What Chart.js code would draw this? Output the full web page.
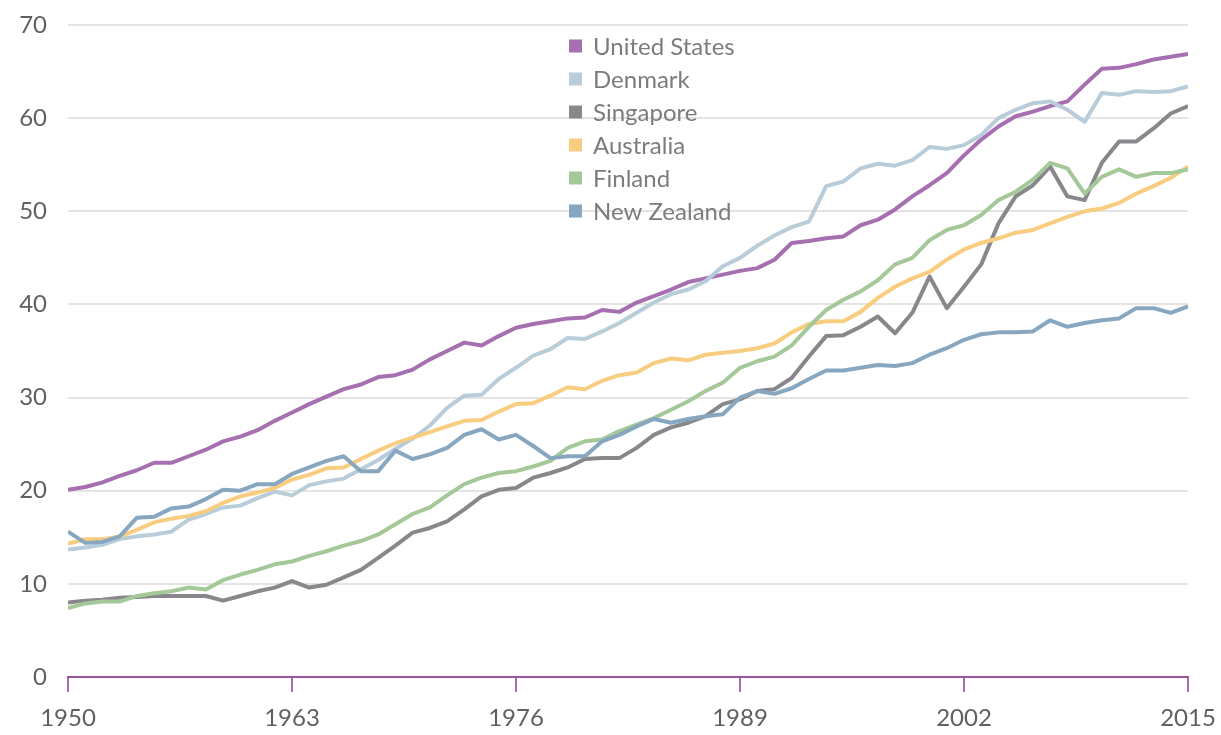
<!DOCTYPE html>
<html>
<head>
<meta charset="utf-8">
<script src="https://cdn.jsdelivr.net/npm/chart.js@4/dist/chart.umd.min.js"></script>
<style>
    html, body { margin: 0; padding: 0; background: #fff; }
    #wrap { width: 1221px; height: 735px; }
</style>
</head>
<body>
<div id="wrap"><canvas id="LineChartCountries" width="1221" height="735"></canvas></div>
<script>
var years = [1950, 1951, 1952, 1953, 1954, 1955, 1956, 1957, 1958, 1959,
    1960, 1961, 1962, 1963, 1964, 1965, 1966, 1967, 1968, 1969,
    1970, 1971, 1972, 1973, 1974, 1975, 1976, 1977, 1978, 1979,
    1980, 1981, 1982, 1983, 1984, 1985, 1986, 1987, 1988, 1989,
    1990, 1991, 1992, 1993, 1994, 1995, 1996, 1997, 1998, 1999,
    2000, 2001, 2002, 2003, 2004, 2005, 2006, 2007, 2008, 2009,
    2010, 2011, 2012, 2013, 2014, 2015];

var countries = ['United States', 'Denmark', 'Singapore', 'Australia', 'Finland', 'New Zealand'];
var colors = ['#a66fb0', '#b9ccd9', '#88888c', '#f8cd80', '#a5c899', '#87a6bf'];

var unitedStates = [20.1, 20.4, 20.9, 21.6, 22.2, 23.0, 23.0, 23.7, 24.4, 25.3,
    25.8, 26.5, 27.5, 28.4, 29.3, 30.1, 30.9, 31.4, 32.2, 32.4,
    33.0, 34.1, 35.0, 35.9, 35.6, 36.6, 37.5, 37.9, 38.2, 38.5,
    38.6, 39.4, 39.2, 40.2, 40.9, 41.6, 42.4, 42.8, 43.2, 43.6,
    43.9, 44.8, 46.6, 46.8, 47.1, 47.3, 48.5, 49.1, 50.2, 51.6,
    52.8, 54.1, 56.0, 57.7, 59.1, 60.2, 60.7, 61.3, 61.8, 63.6,
    65.3, 65.4, 65.8, 66.3, 66.6, 66.9];
var denmark = [13.7, 13.9, 14.2, 14.8, 15.1, 15.3, 15.6, 16.9, 17.5, 18.2,
    18.4, 19.2, 19.9, 19.5, 20.6, 21.0, 21.3, 22.3, 23.3, 24.5,
    25.6, 27.0, 28.9, 30.2, 30.3, 32.0, 33.2, 34.5, 35.2, 36.4,
    36.3, 37.1, 38.0, 39.1, 40.2, 41.1, 41.6, 42.5, 44.1, 45.0,
    46.3, 47.4, 48.3, 48.9, 52.7, 53.2, 54.6, 55.1, 54.9, 55.5,
    56.9, 56.7, 57.1, 58.2, 60.0, 60.9, 61.6, 61.8, 60.9, 59.6,
    62.7, 62.5, 62.9, 62.8, 62.9, 63.4];
var singapore = [8.0, 8.2, 8.3, 8.5, 8.6, 8.7, 8.7, 8.7, 8.7, 8.2,
    8.7, 9.2, 9.6, 10.3, 9.6, 9.9, 10.7, 11.5, 12.8, 14.1,
    15.5, 16.0, 16.7, 18.0, 19.4, 20.1, 20.3, 21.4, 21.9, 22.5,
    23.4, 23.5, 23.5, 24.6, 26.0, 26.8, 27.3, 28.0, 29.3, 29.8,
    30.7, 30.9, 32.1, 34.4, 36.6, 36.7, 37.6, 38.7, 36.9, 39.1,
    43.0, 39.6, 41.9, 44.3, 48.7, 51.6, 52.8, 54.8, 51.6, 51.2,
    55.2, 57.5, 57.5, 58.9, 60.5, 61.3];
var australia = [14.3, 14.8, 14.8, 15.1, 15.8, 16.6, 17.0, 17.3, 17.8, 18.7,
    19.4, 19.8, 20.3, 21.2, 21.7, 22.4, 22.5, 23.4, 24.3, 25.1,
    25.7, 26.3, 26.9, 27.5, 27.6, 28.5, 29.3, 29.4, 30.2, 31.1,
    30.9, 31.8, 32.4, 32.7, 33.7, 34.2, 34.0, 34.6, 34.8, 35.0,
    35.3, 35.8, 37.0, 37.9, 38.2, 38.2, 39.2, 40.7, 41.9, 42.8,
    43.5, 44.8, 45.9, 46.6, 47.1, 47.7, 48.0, 48.7, 49.4, 50.0,
    50.3, 50.9, 51.9, 52.7, 53.6, 54.8];
var finland = [7.4, 7.9, 8.1, 8.1, 8.7, 9.0, 9.2, 9.6, 9.4, 10.4,
    11.0, 11.5, 12.1, 12.4, 13.0, 13.5, 14.1, 14.6, 15.3, 16.4,
    17.5, 18.2, 19.5, 20.7, 21.4, 21.9, 22.1, 22.6, 23.2, 24.6,
    25.3, 25.5, 26.4, 27.1, 27.8, 28.7, 29.6, 30.7, 31.6, 33.2,
    33.9, 34.4, 35.6, 37.6, 39.4, 40.5, 41.4, 42.6, 44.3, 45.0,
    46.9, 48.0, 48.5, 49.6, 51.2, 52.1, 53.4, 55.2, 54.6, 51.9,
    53.7, 54.5, 53.7, 54.1, 54.1, 54.5];
var newZealand = [15.6, 14.4, 14.5, 15.1, 17.1, 17.2, 18.1, 18.3, 19.1, 20.1,
    20.0, 20.7, 20.7, 21.8, 22.5, 23.2, 23.7, 22.1, 22.1, 24.3,
    23.4, 23.9, 24.6, 26.0, 26.6, 25.5, 26.0, 24.8, 23.5, 23.7,
    23.7, 25.3, 26.0, 26.9, 27.7, 27.3, 27.7, 28.0, 28.2, 30.0,
    30.7, 30.4, 31.0, 32.0, 32.9, 32.9, 33.2, 33.5, 33.4, 33.7,
    34.6, 35.3, 36.2, 36.8, 37.0, 37.0, 37.1, 38.3, 37.6, 38.0,
    38.3, 38.5, 39.6, 39.6, 39.1, 39.8];

var seriesList = [unitedStates, denmark, singapore, australia, finland, newZealand];

var yTicks = [0, 10, 20, 30, 40, 50, 60, 70];
var xTicks = [1950, 1963, 1976, 1989, 2002, 2015];

var fontName = "Lato, 'Open Sans', sans-serif";
var axisColor = '#9b559f';

DrawCountriesChart();

function DrawCountriesChart() {
    var ctx = document.getElementById("LineChartCountries").getContext('2d');

    var datasets = seriesList.map(function (values, i) {
        return {
            label: countries[i],
            data: values.map(function (v, j) { return { x: years[j], y: v }; }),
            borderColor: colors[i],
            backgroundColor: colors[i],
            borderWidth: 4,
            borderJoinStyle: 'round',
            pointRadius: 0,
            tension: 0,
            order: countries.length - i
        };
    });

    // legend drawn by hand, stacked list in the top middle
    var listLegend = {
        id: 'listLegend',
        afterDraw: function (chart) {
            var c = chart.ctx;
            c.save();
            c.font = '24px ' + fontName;
            c.textBaseline = 'middle';
            c.textAlign = 'left';
            for (var i = 0; i < countries.length; i++) {
                var y = 46 + i * 33;
                c.fillStyle = colors[i];
                c.fillRect(569, y - 6.5, 13, 13);
                c.fillStyle = '#7c7c7c';
                c.fillText(countries[i], 593, y + 1);
            }
            c.restore();
        }
    };

    window.MyCountriesChart = new Chart(ctx, {
        type: 'line',
        data: { datasets: datasets },
        plugins: [listLegend],
        options: {
            responsive: false,
            animation: false,
            layout: { padding: { top: 25, right: 33, bottom: 0, left: 0 } },
            plugins: {
                legend: { display: false },
                tooltip: { enabled: false }
            },
            scales: {
                x: {
                    type: 'linear',
                    min: 1950,
                    max: 2015,
                    afterBuildTicks: function (scale) {
                        scale.ticks = xTicks.map(function (v) { return { value: v }; });
                    },
                    afterFit: function (scale) {
                        scale.height = 58;
                        scale.paddingLeft = 0;
                        scale.paddingRight = 0;
                    },
                    border: { display: true, color: axisColor, width: 2 },
                    grid: {
                        drawOnChartArea: false,
                        drawTicks: true,
                        tickLength: 15,
                        color: '#a86db0',
                        lineWidth: 2
                    },
                    ticks: {
                        padding: 12,
                        maxRotation: 0,
                        color: '#606060',
                        font: { family: fontName, size: 24 },
                        callback: function (v) { return String(v); }
                    }
                },
                y: {
                    min: 0,
                    max: 70,
                    afterBuildTicks: function (scale) {
                        scale.ticks = yTicks.map(function (v) { return { value: v }; });
                    },
                    afterFit: function (scale) {
                        scale.width = 68;
                        scale.paddingTop = 0;
                        scale.paddingBottom = 0;
                    },
                    border: { display: false },
                    grid: {
                        drawTicks: false,
                        lineWidth: 2,
                        color: function (c) { return c.tick && c.tick.value === 0 ? 'rgba(0,0,0,0)' : '#e4e4e4'; }
                    },
                    ticks: {
                        padding: 21,
                        color: '#606060',
                        font: { family: fontName, size: 24 }
                    }
                }
            }
        }
    });
}
</script>
</body>
</html>
